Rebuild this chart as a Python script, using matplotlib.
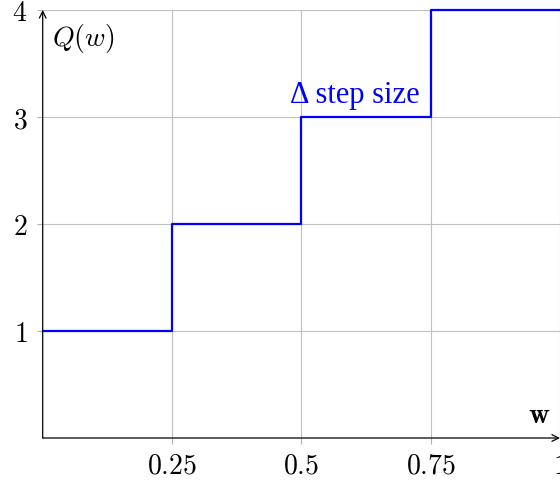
import matplotlib
matplotlib.use("Agg")
import matplotlib.pyplot as plt

plt.rcParams['mathtext.fontset'] = 'cm'

# Data
step_x = [0.0, 0.25, 0.5, 0.75, 1.0]
step_y = [1, 2, 3, 4, 4]
xticks = [0.25, 0.5, 0.75, 1.0]
xtick_labels = [r'$0.25$', r'$0.5$', r'$0.75$', r'$1$']
yticks = [1, 2, 3, 4]
ytick_labels = [r'$1$', r'$2$', r'$3$', r'$4$']

fig = plt.figure(figsize=(5.6, 4.83), dpi=100)
ax = fig.add_axes([42.7/560, 1 - 438/483, 1 - 42.7/560, (438 - 10)/483])
ax.set_xlim(0, 1)
ax.set_ylim(0, 4)

ax.grid(True, color='#c0c0c0', linewidth=0.8)
ax.set_axisbelow(True)
ax.step(step_x, step_y, where='post', color='#0000ff', linewidth=1.6, clip_on=False, zorder=3)

ax.set_xticks(xticks)
ax.set_xticklabels(xtick_labels, fontsize=20)
ax.set_yticks(yticks)
ax.set_yticklabels(ytick_labels, fontsize=20)
ax.tick_params(axis='x', direction='out', length=4, width=0.8, color='#b0b0b0', pad=6)
ax.tick_params(axis='y', direction='out', length=4, width=0.8, color='#b0b0b0', pad=7)

for s in ax.spines.values():
    s.set_visible(False)

ax.annotate('', xy=(1.0, 0), xytext=(0, 0), xycoords='axes fraction',
            arrowprops=dict(arrowstyle='->', color='black', lw=0.9, shrinkA=0, shrinkB=0,
                            mutation_scale=12), annotation_clip=False)
ax.annotate('', xy=(0, 1.0), xytext=(0, 0), xycoords='axes fraction',
            arrowprops=dict(arrowstyle='->', color='black', lw=0.9, shrinkA=0, shrinkB=0,
                            mutation_scale=12), annotation_clip=False)

ax.text(0.018, 0.972, r'$Q(w)$', transform=ax.transAxes, ha='left', va='top', fontsize=20)
ax.text(0.982, 0.022, r'$\mathbf{w}$', transform=ax.transAxes, ha='right', va='bottom', fontsize=21)
ax.text(0.729, 3.13, 'Δ step size', color='#0000ff', ha='right', va='baseline',
        fontsize=22, family=['Liberation Serif', 'DejaVu Serif'])

fig.savefig('out.png', dpi=100)
